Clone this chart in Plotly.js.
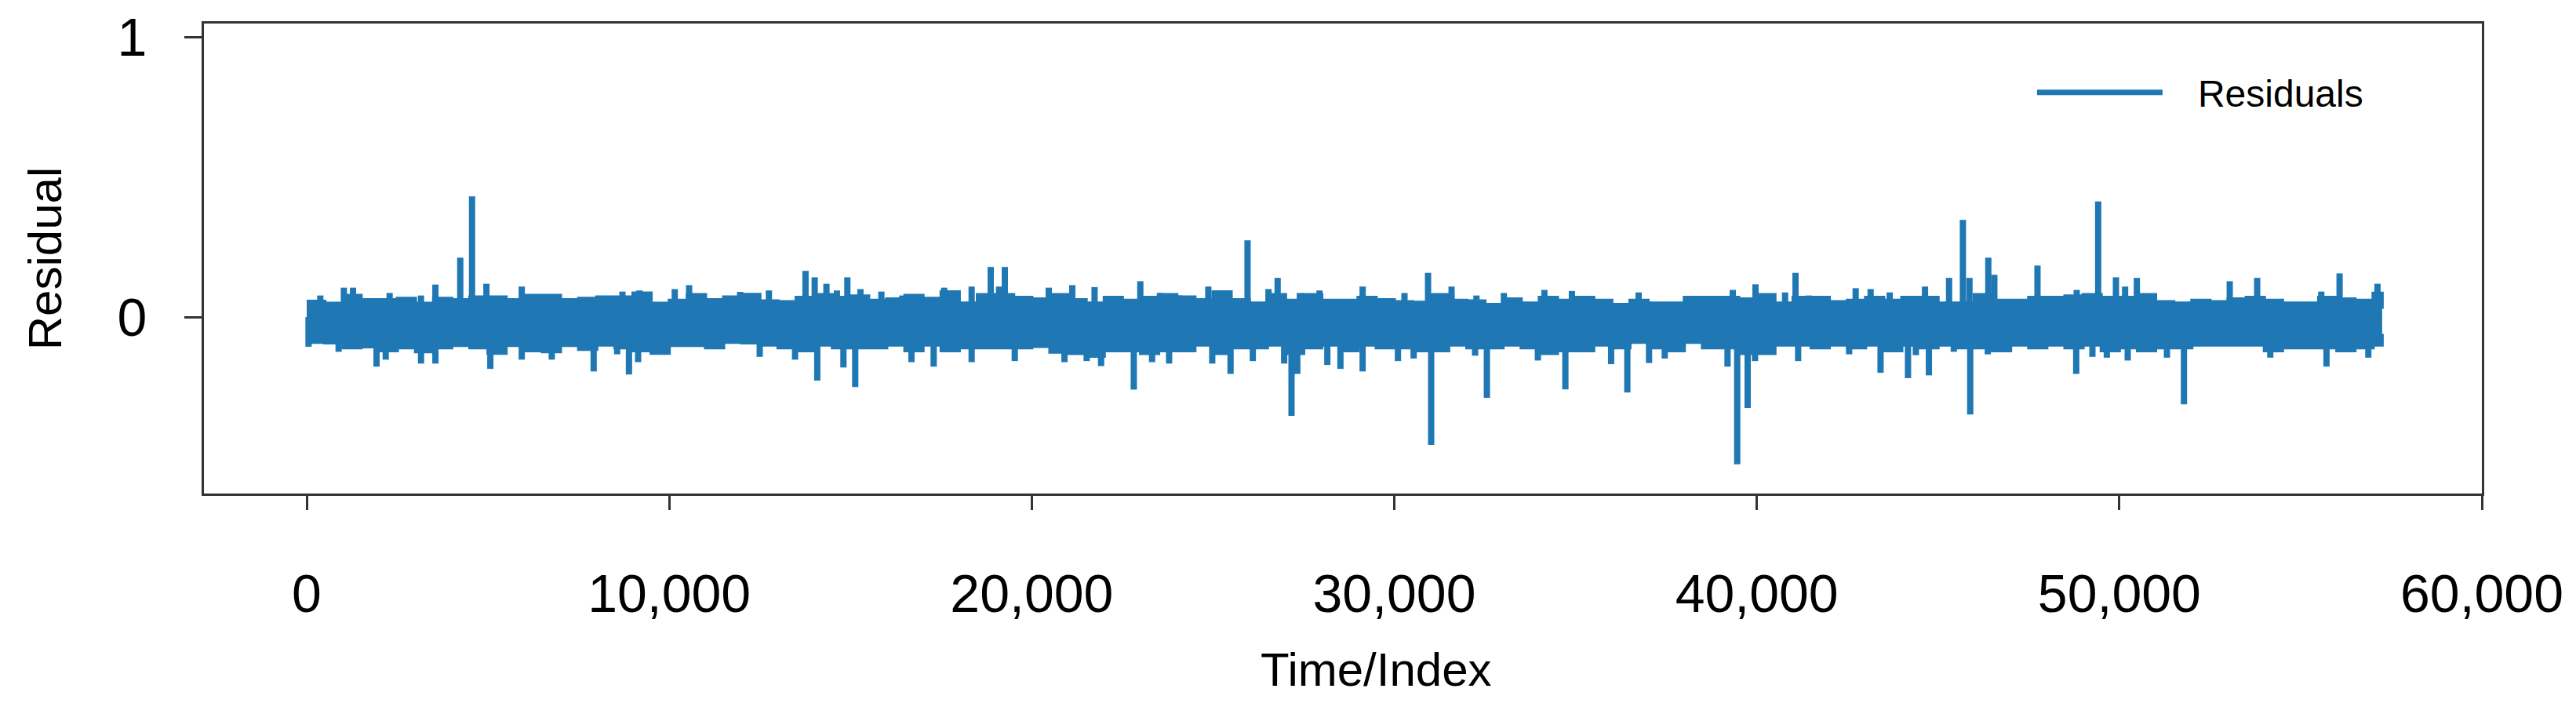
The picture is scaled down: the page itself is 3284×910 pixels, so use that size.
<!DOCTYPE html>
<html>
<head>
<meta charset="utf-8">
<script src="https://cdn.plot.ly/plotly-3.0.1.min.js"></script>
<style>
  html, body { margin: 0; padding: 0; background: #fff; }
  #plot { width: 3284px; height: 910px; }
</style>
</head>
<body>
<div id="plot"></div>
<script>
// Residual series.
// The bulk of the series is a dense band: its upper/lower envelope every 500 steps.
const envIdx = [];
for (let i = 0; i <= 57000; i += 500) envIdx.push(i);
envIdx.push(57250);

const envUpper = [
  0.056, 0.049, 0.077, 0.062, 0.062, 0.067, 0.049, 0.067, 0.062, 0.072,
  0.072, 0.062, 0.077, 0.077, 0.062, 0.067, 0.072, 0.072, 0.086, 0.049,
  0.060, 0.080, 0.062, 0.072, 0.081, 0.058, 0.055, 0.070, 0.080, 0.070,
  0.075, 0.060, 0.065, 0.077, 0.067, 0.090, 0.050, 0.080, 0.080, 0.070,
  0.065, 0.080, 0.062, 0.050, 0.070, 0.060, 0.070, 0.080, 0.072, 0.062,
  0.090, 0.062, 0.050, 0.080, 0.060, 0.080, 0.060, 0.060, 0.070, 0.062,
  0.055, 0.053, 0.080, 0.060, 0.058, 0.045, 0.065, 0.050, 0.070, 0.060,
  0.070, 0.060, 0.045, 0.060, 0.050, 0.050, 0.070, 0.070, 0.070, 0.065,
  0.080, 0.050, 0.070, 0.070, 0.055, 0.060, 0.070, 0.060, 0.070, 0.070,
  0.050, 0.050, 0.080, 0.060, 0.060, 0.070, 0.070, 0.075, 0.080, 0.070,
  0.070, 0.080, 0.055, 0.050, 0.060, 0.055, 0.065, 0.070, 0.060, 0.050,
  0.050, 0.070, 0.065, 0.060, 0.085, 0.030
];

const envLower = [
  -0.090, -0.092, -0.110, -0.106, -0.120, -0.110, -0.124, -0.110, -0.101, -0.110,
  -0.129, -0.101, -0.120, -0.124, -0.101, -0.115, -0.100, -0.110, -0.120, -0.129,
  -0.101, -0.101, -0.110, -0.090, -0.092, -0.100, -0.110, -0.120, -0.100, -0.110,
  -0.110, -0.110, -0.100, -0.120, -0.100, -0.120, -0.110, -0.110, -0.110, -0.110,
  -0.105, -0.125, -0.130, -0.140, -0.120, -0.120, -0.130, -0.120, -0.120, -0.100,
  -0.130, -0.110, -0.110, -0.100, -0.130, -0.110, -0.100, -0.120, -0.100, -0.110,
  -0.110, -0.120, -0.120, -0.100, -0.110, -0.110, -0.100, -0.110, -0.130, -0.120,
  -0.120, -0.100, -0.110, -0.090, -0.110, -0.120, -0.090, -0.110, -0.110, -0.130,
  -0.130, -0.100, -0.100, -0.110, -0.100, -0.110, -0.100, -0.120, -0.100, -0.110,
  -0.100, -0.110, -0.110, -0.120, -0.100, -0.110, -0.100, -0.110, -0.100, -0.120,
  -0.110, -0.120, -0.110, -0.110, -0.100, -0.100, -0.100, -0.100, -0.120, -0.110,
  -0.110, -0.110, -0.120, -0.110, -0.100, -0.060
];

// Individual spikes sticking out of the band
const spikeIdx = [
  50, 375, 880, 1025, 1277, 1926, 2179, 2287, 3153, 3153, 3550, 3550, 4235, 4560, 4957,
  5065, 5931, 5931, 6760, 7915, 8564, 8709, 8889, 9141, 9177, 9574, 10152, 10548,
  11955, 12496, 12749, 13470, 13759, 14012, 14083, 14336, 14625, 14805, 14913, 15130,
  15274, 15851, 16429, 16681, 17294, 17583, 18341, 18341, 18867, 19098, 19257, 19531, 20469,
  20902, 21118, 21263, 21515, 21732, 21912, 22814, 22994, 23319, 23535, 23788, 24076, 24870,
  24978, 25483, 25952, 26097, 26530, 26782, 26962, 27165, 27324, 27396, 27937, 28153,
  28514, 29127, 29127, 30101, 30281, 30534, 30931, 31017, 31580, 32229, 32266, 32554, 33023,
  33961, 34141, 34719, 34899, 35981, 36428, 36739, 37027, 37460, 39192, 39336, 39459,
  39747, 39950, 39964, 40779, 41068, 41140, 41429, 42547, 42727, 43139, 43413, 43665, 44170,
  44387, 44639, 44747, 45303, 45433, 45685, 45866, 45887, 46371, 46385, 46551, 47742,
  48810, 48824, 49257, 49416, 49654, 49906, 50159, 50231, 50483, 51313, 51782, 53045,
  53802, 54163, 55570, 55714, 56075, 56868, 57121
];
const spikeVal = [
  -0.106, 0.077, -0.124, 0.105, 0.105, -0.177, -0.152, 0.086, 0.077, -0.166, 0.116, -0.166, 0.212, 0.431, 0.119,
  -0.185, 0.109, -0.152, -0.152, -0.194, -0.133, 0.091, -0.205, -0.161, 0.095, -0.133, 0.100, 0.114,
  0.090, -0.142, 0.095, -0.152, 0.165, 0.142, -0.227, 0.119, 0.095, -0.180, 0.142, -0.250,
  0.100, 0.091, 0.077, -0.161, -0.177, 0.105, 0.109, -0.161, 0.179, 0.109, 0.179, -0.157, 0.105,
  -0.161, 0.114, -0.129, -0.157, 0.107, -0.175, -0.259, 0.128, -0.161, 0.086, -0.166, 0.077, 0.109,
  -0.166, -0.203, 0.274, -0.157, 0.100, 0.140, -0.166, -0.353, -0.203, 0.086, 0.095, -0.171,
  -0.185, 0.109, -0.194, -0.157, 0.086, -0.148, 0.158, -0.456, 0.109, -0.138, 0.077, -0.288, 0.086,
  -0.155, 0.097, -0.258, 0.093, -0.168, -0.269, 0.088, -0.164, -0.148, -0.177, 0.097, -0.526,
  -0.325, -0.157, 0.117, 0.088, 0.158, -0.157, 0.077, -0.133, 0.103, 0.100, -0.199, 0.088, -0.218,
  -0.136, 0.109, -0.208, 0.140, -0.124, 0.347, 0.140, -0.348, -0.133, 0.212, 0.151, 0.184,
  -0.203, 0.097, -0.142, 0.413, -0.145, 0.142, 0.109, -0.155, 0.140, -0.145, -0.311, 0.128,
  0.140, -0.145, 0.091, -0.177, 0.156, -0.145, 0.119
];

const xTickVals = [0, 10000, 20000, 30000, 40000, 50000, 60000];
const xTickText = ["0", "10,000", "20,000", "30,000", "40,000", "50,000", "60,000"];
const yTickVals = [0, 1];
const yTickText = ["0", "1"];

const blue = "#1f77b4";
const axisColor = "#333333";
const fontFamily = "Liberation Sans, Arial, sans-serif";

// spikes as stems from the band centre
let stemX = [], stemY = [];
spikeIdx.forEach((x, i) => {
    stemX.push(x, x, null);
    stemY.push(0, spikeVal[i], null);
});

let lowerTrace = {
    x: envIdx, y: envLower,
    mode: "lines",
    line: { color: blue, width: 4, shape: "hv" },
    showlegend: false,
    hoverinfo: "skip"
};

let upperTrace = {
    x: envIdx, y: envUpper,
    mode: "lines",
    fill: "tonexty",
    fillcolor: blue,
    line: { color: blue, width: 4, shape: "hv" },
    showlegend: false,
    hoverinfo: "skip"
};

let spikeTrace = {
    x: stemX, y: stemY,
    mode: "lines",
    line: { color: blue, width: 8 },
    showlegend: false,
    hoverinfo: "skip"
};

// legend entry only
let legendTrace = {
    x: [null], y: [null],
    mode: "lines",
    name: "\u00a0\u00a0\u00a0Residuals",
    line: { color: blue, width: 7 }
};

let layout = {
    width: 3284,
    height: 910,
    margin: { l: 260, r: 120, t: 30, b: 281 },
    paper_bgcolor: "#ffffff",
    plot_bgcolor: "#ffffff",
    font: { family: fontFamily, color: "#000000", size: 62 },
    xaxis: {
        range: [-2835, 60000],
        tickvals: xTickVals,
        ticktext: xTickText,
        ticks: "outside",
        ticklen: 18,
        tickwidth: 3,
        tickcolor: axisColor,
        ticklabelstandoff: 48,
        showline: true,
        linecolor: axisColor,
        linewidth: 3,
        mirror: true,
        showgrid: false,
        zeroline: false,
        tickfont: { family: fontFamily, size: 68, color: "#000" }
    },
    yaxis: {
        range: [-0.63, 1.048],
        tickvals: yTickVals,
        ticktext: yTickText,
        ticks: "outside",
        ticklen: 22,
        tickwidth: 3,
        tickcolor: axisColor,
        ticklabelstandoff: 34,
        showline: true,
        linecolor: axisColor,
        linewidth: 3,
        mirror: true,
        showgrid: false,
        zeroline: false,
        tickfont: { family: fontFamily, size: 68, color: "#000" },
        title: { text: "Residual", font: { family: fontFamily, size: 60, color: "#000" }, standoff: 52 }
    },
    annotations: [{
        text: "Time/Index",
        xref: "paper", yref: "paper",
        x: 0.5148, y: -0.374,
        xanchor: "center", yanchor: "middle",
        showarrow: false,
        font: { family: fontFamily, size: 60, color: "#000" }
    }],
    legend: {
        x: 0.803,
        y: 0.853,
        xanchor: "left",
        yanchor: "middle",
        bgcolor: "rgba(0,0,0,0)",
        borderwidth: 0,
        itemwidth: 160,
        font: { family: fontFamily, size: 48, color: "#000" }
    },
    showlegend: true
};

Plotly.newPlot("plot", [lowerTrace, upperTrace, spikeTrace, legendTrace], layout, { staticPlot: true });
</script>
</body>
</html>
